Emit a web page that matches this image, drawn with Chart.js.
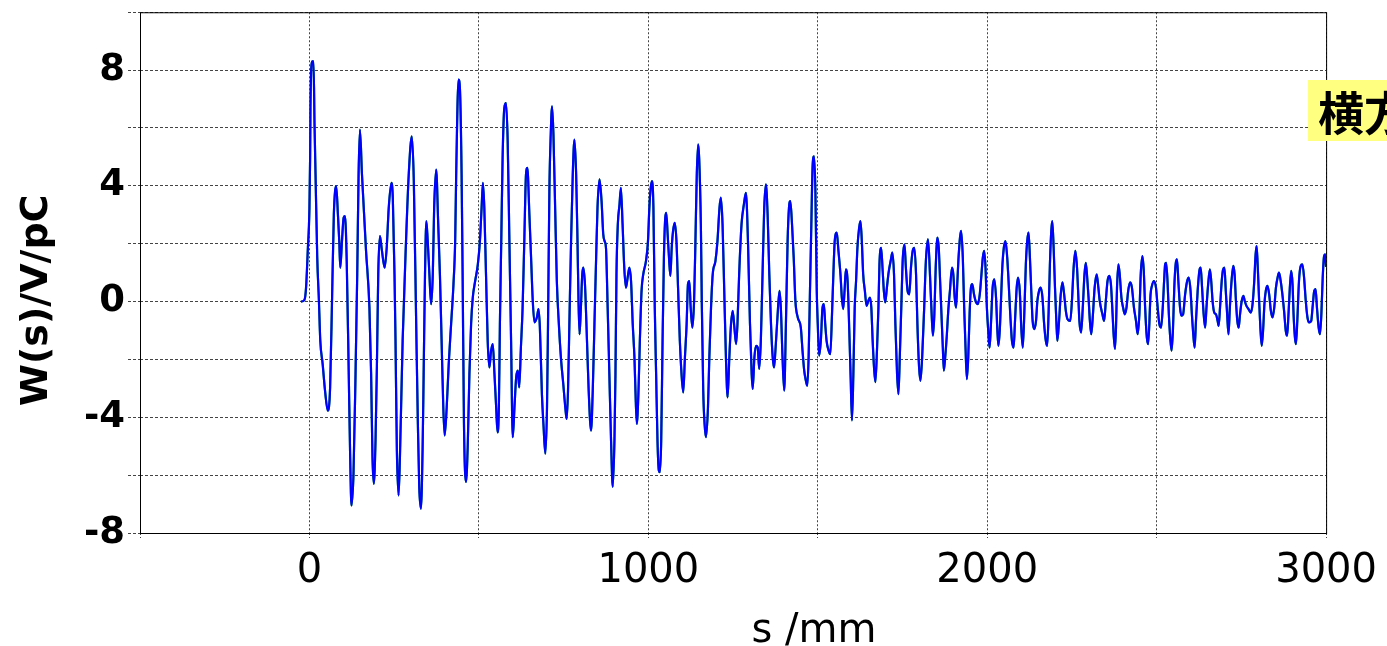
<!DOCTYPE html>
<html>
<head>
<meta charset="utf-8">
<script src="https://cdn.jsdelivr.net/npm/chart.js@4.4.1/dist/chart.umd.min.js"></script>
<style>
  html, body { margin: 0; padding: 0; background: #fff; overflow: hidden; }
  #wrap { position: relative; width: 1387px; height: 646px; }
  #note {
    position: absolute; left: 1308px; top: 80px; height: 61px; padding-left: 10px;
    background: #ffff80; color: #000; white-space: nowrap;
    font: bold 46px "Noto Sans CJK JP", sans-serif; line-height: 61px;
  }
</style>
</head>
<body>
<div id="wrap">
  <canvas id="chart_canvas" width="1387" height="646"></canvas>
  <div id="note">横方向</div>
</div>
<script>
// wake trace, [s (mm), W (V/pC)]
const wakeSW = [
  [-25,0],[-15,0.05],[-10,0.48],[-5,1.75],[0,3.24],[2,4.97],[3,6.69],[8,8.3],[12,8.3],[15,6.11],
  [18,4.39],[23,1.52],[28,0.02],[32,-1.36],[39,-2.16],[46,-3.08],[54,-3.77],[61,-2.97],[67,0.25],[72,3.01],
  [79,3.99],[84,3.01],[88,2.09],[91,1.17],[96,2.09],[101,2.9],[105,2.95],[110,1.4],[116,-2.51],[120,-5.26],
  [124,-7.05],[130,-5.95],[136,-2.51],[141,0.94],[145,4.39],[149,5.94],[155,4.39],[167,1.75],[177,-0.21],[182,-2.51],
  [186,-5.38],[190,-6.3],[195,-4.8],[199,-2.28],[203,0.94],[208,2.26],[214,1.75],[222,1.17],[228,1.86],[234,3.24],
  [242,4.1],[246,3.59],[251,0.94],[254,-1.36],[258,-5.15],[263,-6.7],[267,-5.38],[275,-1.36],[285,2.09],[293,4.39],
  [302,5.71],[308,4.16],[315,-0.78],[320,-4.23],[324,-6.41],[329,-7.16],[334,-5.03],[337,-2.51],[341,0.94],[345,2.78],
  [349,2.09],[354,0.94],[359,-0.09],[364,0.94],[368,3.24],[374,4.56],[380,2.67],[385,0.94],[390,-1.36],[395,-3.66],
  [399,-4.63],[405,-3.66],[411,-2.16],[418,-0.78],[425,0.6],[430,2.09],[433,4.39],[440,7.67],[444,7.38],[449,4.39],
  [452,0.94],[456,-4.23],[462,-6.24],
  [467,-5.03],[472,-2.51],[477,-0.78],[482,0.14],[489,0.71],[497,1.29],[503,2.09],[508,3.24],[512,4.1],[516,3.24],
  [521,0.94],[526,-1.36],[531,-2.28],[536,-1.7],[541,-1.47],[546,-2.51],[551,-3.66],[555,-4.52],[559,-3.66],[562,-0.78],
  [566,2.09],[570,4.97],[575,6.69],[580,6.86],[585,5.54],[590,2.09],[595,-1.36],[600,-4.69],[605,-3.66],[610,-2.62],
  [615,-2.39],[619,-2.97],[624,-1.59],[629,-0.21],[634,2.09],[639,4.39],[643,4.62],[649,3.01],[654,1.52],[659,0.02],
  [664,-0.72],[671,-0.55],[676,-0.26],[680,-0.9],[686,-3.2],[691,-4.34],[696,-5.26],[701,-3.66],[704,-0.78],[708,3.82],
  [712,5.77],[716,6.75],[720,5.77],[725,3.24],[730,0.71],[736,-0.78],[742,-1.93],[749,-2.85],[755,-3.66],[759,-4.06],
  [763,-3.08],[767,-0.78],[772,2.09],[777,4.39],[782,5.6],[787,4.39],[791,2.09],[794,0.02],[797,-1.13],[801,-0.21],
  [805,0.94],[808,1.17],[813,0.6],[819,-1.36],[824,-3.08],[831,-4.46],[836,-3.08],[841,-0.78],[846,1.52],[850,3.24],
  [856,4.22],[862,3.47],[867,2.32],[871,2.09],[875,1.86],[880,-0.21],[885,-2.51],[890,-4.8],[895,-6.41],[900,-4.8],
  [903,-2.51],[906,0.94],[910,2.67],[915,3.36],[919,3.93],[924,2.67],[929,1.17],[934,0.48],[939,0.83],[944,1.17],
  [949,0.71],[954,-0.78],[959,-1.93],[962,-3.08],[966,-4.23],[971,-3.08],[975,-1.36],[980,0.37],[985,0.94],[993,1.4],
  [999,2.09],[1003,3.24],[1007,3.93],[1011,4.16],[1015,3.24],[1019,-0.21],[1023,-2.51],[1027,-4.8],[1031,-5.84],[1034,-5.9],
  [1038,-4.8],[1042,-1.36],[1046,1.52],[1050,2.9],[1053,3.07],[1057,2.32],[1061,1.52],[1065,0.89],[1069,1.86],[1073,2.44],
  [1078,2.72],[1083,2.09],[1088,0.37],[1093,-1.36],[1098,-2.51],[1103,-3.14],[1108,-1.93],[1113,-0.78],[1117,0.6],[1121,0.71],
  [1125,-0.21],[1130,-0.9],[1135,0.02],[1139,2.09],[1143,4.39],[1147,5.43],[1150,4.97],[1155,2.67],[1158,-0.21],[1162,-3.08],
  [1166,-4.23],[1170,-4.69],[1176,-3.66],[1180,-1.93],[1185,-0.21],[1190,0.94],[1198,1.4],[1204,2.09],[1210,3.24],[1214,3.59],
  [1219,2.67],[1224,0.37],[1229,-1.93],[1234,-3.31],[1239,-1.93],[1244,-0.78],[1249,-0.32],[1254,-0.9],[1259,-1.47],[1263,-0.78],
  [1268,0.94],[1275,2.67],[1282,3.36],[1288,3.76],[1294,2.09],[1300,-0.78],[1305,-2.51],[1308,-3.02],[1313,-1.93],[1318,-1.53],
  [1323,-1.59],[1327,-2.33],[1332,-1.36],[1337,0.94],[1342,3.24],[1347,4.05],[1352,3.01],[1357,0.94],[1362,-0.78],[1367,-1.93],
  [1371,-2.28],[1375,-1.7],[1381,-0.55],[1387,0.37],[1391,-0.21],[1396,-1.93],[1401,-3.08],[1406,-0.78],[1411,2.09],[1415,3.24],
  [1419,3.47],[1424,2.67],[1429,1.52],[1434,0.02],[1441,-0.55],
  [1450,-0.9],[1455,-1.7],[1460,-2.39],[1465,-2.74],[1469,-2.91],[1473,-1.93],[1477,0.37],[1481,2.67],[1485,4.74],[1489,5.02],
  [1493,3.82],[1497,0.37],[1500,-0.78],[1504,-1.87],[1509,-1.36],[1514,-0.21],[1518,-0.09],[1522,-0.78],[1526,-1.36],[1532,-1.7],
  [1537,-1.82],[1542,-0.44],[1546,0.94],[1550,2.09],[1556,2.38],[1561,1.75],[1567,0.94],[1571,0.14],[1575,-0.26],[1579,0.37],
  [1583,1.11],[1588,0.71],[1593,-1.01],[1597,-2.62],[1601,-4.11],[1605,-2.51],[1609,-0.21],[1613,0.71],[1617,1.86],[1622,2.55],
  [1626,2.78],[1630,2.09],[1634,0.94],[1639,0.37],[1644,-0.15],[1649,0.02],[1654,0.14],[1658,-0.21],[1662,-1.36],[1666,-2.28],
  [1670,-2.79],[1675,-1.59],[1679,-0.21],[1682,1.29],[1687,1.86],[1691,1.17],[1695,0.37],[1699,-0.03],[1704,0.48],[1709,1.0],
  [1716,1.46],[1720,1.69],[1725,0.94],[1729,-0.78],[1734,-2.51],[1738,-3.2],[1742,-1.93],[1747,0.02],[1751,1.52],[1756,1.98],
  [1760,1.17],[1765,0.37],[1770,0.25],[1775,1.17],[1780,1.75],[1785,1.86],[1790,0.94],[1794,-0.78],[1799,-2.28],[1803,-2.74],
  [1808,-1.93],[1814,-0.21],[1819,1.4],[1825,2.15],[1829,1.52],[1833,0.37],[1837,-0.67],[1840,-1.18],[1844,-0.44],[1848,1.17],
  [1853,2.21],[1857,1.86],[1861,0.71],[1865,-0.44],[1869,-1.59],[1872,-2.39],[1876,-1.93],[1881,-1.13],[1885,-0.32],[1890,0.37],
  [1896,1.17],[1900,0.94],[1904,0.14],[1908,-0.21],[1912,0.71],[1916,1.63],[1923,2.44],[1928,1.52],[1932,-0.21],[1936,-1.59],
  [1940,-2.68],[1944,-1.93],[1948,-0.44],[1952,0.48],[1956,0.6],
  [1961,0.25],[1967,-0.03],[1972,-0.09],[1978,0.25],[1983,0.94],[1987,1.52],[1991,1.75],[1995,1.17],[1999,-0.21],[2003,-1.01],
  [2007,-1.59],[2011,-0.78],[2016,0.48],[2021,0.77],[2026,0.14],[2030,-1.01],[2033,-1.53],[2037,-1.01],[2041,0.14],[2045,1.29],
  [2049,1.86],[2054,2.09],[2059,1.52],[2063,0.71],[2068,-0.44],[2073,-1.36],[2078,-1.59],[2082,-0.67],[2087,0.48],[2091,0.83],
  [2096,0.37],[2101,-1.01],[2105,-1.59],[2110,-0.21],[2114,1.29],[2118,2.09],[2122,2.38],[2126,1.52],[2130,0.37],[2134,-0.67],
  [2139,-0.95],[2144,-0.67],[2148,0.02],[2153,0.37],[2158,0.48],[2163,0.14],[2168,-0.78],[2173,-1.36],[2177,-1.53],[2181,-0.44],
  [2185,1.29],[2189,2.44],[2192,2.78],[2196,1.86],[2200,0.48],[2204,-0.67],[2207,-1.36],[2212,-0.67],[2217,0.25],[2222,0.66],
  [2227,0.25],[2232,-0.32],[2237,-0.61],[2245,-0.67],[2250,0.02],[2255,1.17],[2260,1.75],[2265,1.17],[2269,0.14],[2272,-0.67],
  [2277,-1.07],[2282,-0.21],[2287,0.94],[2291,1.34],[2295,0.83],[2299,0.14],[2303,-0.67],[2307,-1.13],[2312,-0.44],[2317,0.48],
  [2323,0.94],[2328,0.48],[2332,0.02],[2340,-0.44],[2345,-0.67],[2350,0.02],[2355,0.71],[2360,0.89],[2365,0.6],[2370,-0.44],
  [2373,-1.13],[2377,-1.64],[2380,-0.9],[2383,0.48],[2387,1.29],[2391,0.94],[2396,0.14],[2401,-0.21],[2406,-0.44],[2411,-0.21],
  [2416,0.37],[2422,0.66],[2427,0.48],[2433,-0.21],[2439,-0.67],[2444,-1.13],[2449,-0.44],[2453,0.94],[2458,1.57],[2462,1.06],
  [2466,-0.21],[2471,-1.24],[2475,-1.47],
  [2482,0.25],[2486,0.54],[2492,0.71],[2498,0.48],[2503,-0.21],[2508,-0.78],[2513,-0.9],[2518,-0.21],[2522,0.71],[2525,1.29],
  [2528,1.34],[2532,0.71],[2536,-0.44],[2540,-1.24],[2544,-1.7],[2548,-1.01],[2552,0.48],[2556,1.29],[2560,1.46],[2564,0.71],
  [2569,-0.21],[2573,-0.49],[2578,-0.44],[2584,0.25],[2590,0.71],[2595,0.83],[2600,0.37],[2604,-0.44],[2608,-1.13],[2612,-1.59],
  [2616,-0.67],[2621,0.37],[2626,1.06],[2630,1.17],[2634,0.48],[2638,-0.32],[2643,-0.9],[2647,-0.21],[2652,0.6],[2657,1.11],
  [2661,0.71],[2665,0.02],[2670,-0.38],[2675,-0.44],[2680,-0.67],[2683,-0.84],[2687,-0.21],[2692,0.71],[2696,1.11],[2700,1.17],
  [2704,0.37],[2708,-0.44],[2712,-1.13],[2716,-0.21],[2721,0.71],[2726,1.23],[2730,0.94],[2734,0.02],[2738,-0.67],[2742,-0.9],
  [2746,-0.44],[2751,0.02],[2756,0.2],[2760,0.02],[2765,-0.15],[2771,-0.26],[2778,-0.38],[2783,-0.09],[2788,0.71],[2792,1.63],
  [2795,1.92],[2798,1.29],[2802,0.14],[2806,-0.9],[2810,-1.53],[2814,-1.01],[2818,-0.09],[2822,0.37],[2827,0.54],[2832,0.25],
  [2837,-0.32],[2842,-0.55],[2847,-0.21],[2852,0.48],[2858,0.89],[2861,1.0],[2866,0.71],[2871,0.25],[2876,-0.32],[2881,-1.01],
  [2885,-1.18],[2889,-0.44],[2893,0.48],[2897,1.06],[2901,0.6],[2904,-0.44],[2908,-1.24],[2911,-1.47],[2915,-0.67],[2920,0.71],
  [2925,1.23],[2930,1.29],[2935,0.83],[2940,0.02],[2945,-0.55],[2950,-0.72],[2956,-0.67],[2960,-0.21],[2965,0.37],[2969,0.43],
  [2973,-0.21],[2978,-0.9],[2982,-1.13],[2986,-0.44],[2990,0.83],[2994,1.57],[2997,1.63],[3000,1.2]
];

const xTickLabels = [0, 1000, 2000, 3000];
const yTickLabels = [8, 4, 0, -4, -8];
const xTitle = 's /mm';
const yTitle = 'W(s)/V/pC';

const points = wakeSW.map(p => ({ x: p[0], y: p[1] }));

// solid frame round the plot area, axis titles placed as in the original figure
const framePlugin = {
  id: 'frame',
  afterDatasetsDraw(chart) {
    const a = chart.chartArea, c = chart.ctx;
    c.save();
    c.strokeStyle = '#000';
    c.lineWidth = 1;
    c.strokeRect(a.left + 0.5, a.top + 0.5, a.right - a.left, a.bottom - a.top);
    c.restore();
  },
  afterDraw(chart) {
    const a = chart.chartArea, c = chart.ctx;
    c.save();
    c.fillStyle = '#000';
    c.textAlign = 'center';
    c.textBaseline = 'alphabetic';
    c.font = '40px "DejaVu Sans"';
    c.fillText(xTitle, a.left + 674, 642);
    c.translate(47, a.top + 288);
    c.rotate(-Math.PI / 2);
    c.font = 'bold 38px "DejaVu Sans"';
    c.fillText(yTitle, 0, 0);
    c.restore();
  }
};

let ctx = document.getElementById('chart_canvas');
let wake_chart = new Chart(ctx, { // eslint-disable-line no-unused-vars, no-undef
  type: 'line',
  data: {
    datasets: [{
      label: 'blue',
      data: points,
      borderColor: '#0000ff',
      borderWidth: 2.2,
      pointRadius: 0,
      cubicInterpolationMode: 'monotone'
    }, {
      label: 'green',
      data: points,
      borderColor: '#00b000',
      borderWidth: 2.2,
      pointRadius: 0,
      cubicInterpolationMode: 'monotone'
    }]
  },
  options: {
    responsive: false,
    animation: false,
    devicePixelRatio: 1,
    layout: { padding: { left: 0, top: 10, right: 59, bottom: 0 } },
    plugins: { legend: { display: false }, tooltip: { enabled: false } },
    scales: {
      x: {
        type: 'linear',
        min: -500,
        max: 3000,
        afterFit: (s) => { s.height = 113; },
        border: { display: false, dash: [2, 2] },
        grid: { color: '#444', lineWidth: 1, tickLength: 5, tickColor: '#444', tickBorderDash: [2, 2] },
        ticks: {
          stepSize: 500,
          autoSkip: false,
          maxRotation: 0,
          padding: 10,
          color: '#000',
          font: { family: 'DejaVu Sans', size: 40 },
          callback: (v) => xTickLabels.includes(v) ? String(v) : ''
        }
      },
      y: {
        min: -8,
        max: 10,
        afterFit: (s) => { s.width = 140; },
        border: { display: false, dash: [3, 2] },
        grid: { color: '#444', lineWidth: 1, tickLength: 12, tickColor: '#444', tickBorderDash: [3, 2] },
        ticks: {
          stepSize: 2,
          padding: 3,
          color: '#000',
          font: { family: 'DejaVu Sans', size: 37, weight: 'bold', lineHeight: 0.5 },
          callback: (v) => yTickLabels.includes(v) ? String(v) : ''
        }
      }
    }
  },
  plugins: [framePlugin]
});
</script>
</body>
</html>
